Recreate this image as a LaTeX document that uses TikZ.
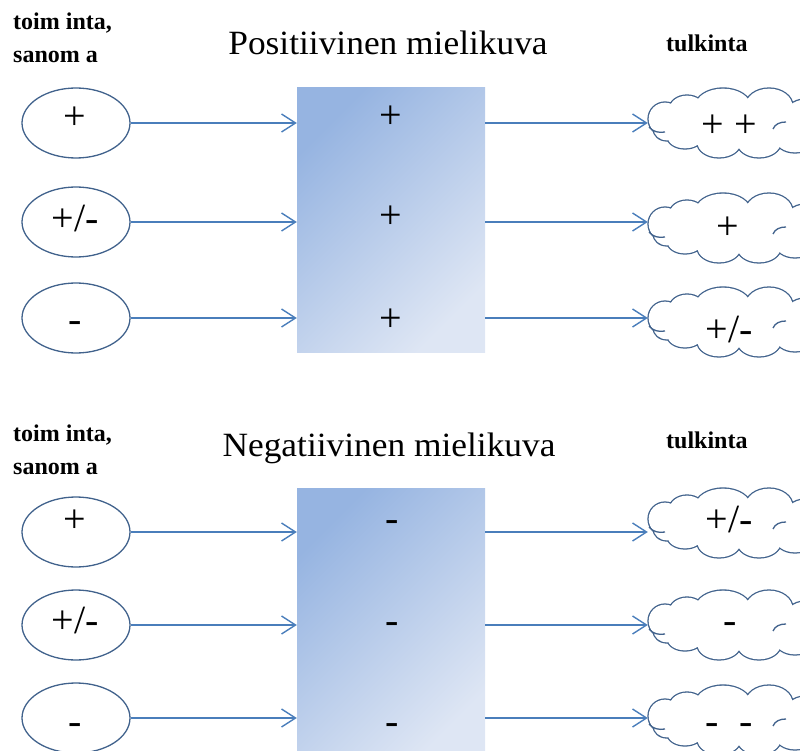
\documentclass[tikz,border=0pt]{standalone}
\usepackage{fontspec}
\setmainfont{Liberation Serif}
\usetikzlibrary{shapes.geometric,arrows.meta}
\definecolor{edge}{RGB}{65,98,140}
\definecolor{link}{RGB}{74,126,187}
\definecolor{shadeA}{RGB}{150,180,225}
\definecolor{shadeB}{RGB}{222,230,244}
% lobes of a cloud outline (local axes, y up); radii grown by \lobegrow
\def\lobegrow{0pt}
\newcommand\lobe[4]{(#1,#2) ellipse[x radius=#3pt+(\lobegrow), y radius=#4pt+(\lobegrow)]}
\newcommand\cloudlobes{%
  \lobe{-72}{4}{17}{17}
  \lobe{-50}{14}{18}{14}
  \lobe{-14}{17}{28}{18}
  \lobe{32}{17}{24}{18}
  \lobe{68}{4}{22}{20}
  \lobe{58}{-16}{20}{14}
  \lobe{22}{-20}{22}{15}
  \lobe{-18}{-20}{22}{15}
  \lobe{-52}{-14}{18}{12}
  \lobe{-70}{-6}{14}{12}
  \lobe{0}{0}{62}{20}}
\begin{document}
\begin{tikzpicture}[x=1pt,y=-1pt,
  oval/.style={draw=edge, line width=1.3pt, ellipse, minimum width=108pt, minimum height=70pt, inner sep=0pt},
  puff/.style={rectangle, minimum width=178pt, minimum height=70pt, inner sep=0pt},
  hook/.style={draw=edge, line width=1.3pt},
  panel/.style={shading=axis, top color=shadeA, bottom color=shadeB, shading angle=45, inner sep=0pt, minimum width=188pt},
  arr/.style={draw=link, line width=1.4pt, -{Straight Barb[length=14pt,width=18pt]}},
  sign/.style={font=\fontsize{40}{48}\selectfont, inner sep=0pt, anchor=base},
  lab/.style={font=\fontsize{24}{30}\selectfont\bfseries, inner sep=0pt, anchor=base west},
  head/.style={font=\fontsize{34}{40}\selectfont, inner sep=0pt, anchor=base}
]
\useasboundingbox (0,0) rectangle (800,751);

% ---------- shapes ----------
\node[lab] (ta1) at (13,30) {toim inta,};
\node[lab] (tb1) at (13,63) {sanom a};
\node[head] (h1) at (388,55) {\scalebox{1.04}[1]{Positiivinen mielikuva}};
\node[lab] (tk1) at (666,52) {tulkinta};

\node[panel, minimum height=264pt] (p1) at (391,220) {};
\node[oval] (e1) at (76,123) {};
\node[oval] (e2) at (76,222) {};
\node[oval] (e3) at (76,318) {};
\node[puff] (c1) at (737,123) {};
\node[puff] (c2) at (737,228) {};
\node[puff] (c3) at (737,322) {};

\node[lab] (ta2) at (13,441) {toim inta,};
\node[lab] (tb2) at (13,474) {sanom a};
\node[head] (h2) at (389,456) {\scalebox{1.04}[1]{Negatiivinen mielikuva}};
\node[lab] (tk2) at (666,448) {tulkinta};

\node[panel, minimum height=272pt] (p2) at (391,624) {};
\node[oval] (e4) at (76,532) {};
\node[oval] (e5) at (76,625) {};
\node[oval] (e6) at (76,718) {};
\node[puff] (c4) at (737,523) {};
\node[puff] (c5) at (737,625) {};
\node[puff] (c6) at (737,720) {};

% cloud outlines: stroked union of lobes plus two inner curls
\foreach \c in {c1,c2,c3,c4,c5,c6}{
  \begin{scope}[shift={(\c.center)}, x=1pt, y=1pt]
    \def\lobegrow{0.65pt}
    \fill[edge] \cloudlobes;
    \def\lobegrow{-0.65pt}
    \fill[white] \cloudlobes;
    \draw[hook] (-88,-4) .. controls (-84,-9) and (-78,-10) .. (-72,-9);
    \draw[hook] (36,-6) .. controls (38,-1) and (43,1) .. (49,1);
  \end{scope}
}

% ---------- connectors ----------
\draw[arr] (e1.east) -- (e1.east -| p1.west);
\draw[arr] (e2.east) -- (e2.east -| p1.west);
\draw[arr] (e3.east) -- (e3.east -| p1.west);
\draw[arr] (e1 -| p1.east) -- (e1 -| c1.west);
\draw[arr] (e2 -| p1.east) -- (e2 -| c2.west);
\draw[arr] (e3 -| p1.east) -- (e3 -| c3.west);

\draw[arr] (e4.east) -- (e4.east -| p2.west);
\draw[arr] (e5.east) -- (e5.east -| p2.west);
\draw[arr] (e6.east) -- (e6.east -| p2.west);
\draw[arr] (e4 -| p2.east) -- (e4 -| c4.west);
\draw[arr] (e5 -| p2.east) -- (e5 -| c5.west);
\draw[arr] (e6 -| p2.east) -- (e6 -| c6.west);

% ---------- signs ----------
\node[sign] (se1) at (75,130) {+};
\node[sign] (se2) at (75,232) {+/-};
\node[sign] (se3) at (75,332) {-};
\node[sign] (sp1) at (391,129) {+};
\node[sign] (sp2) at (391,229) {+};
\node[sign] (sp3) at (391,331) {+};
\node[sign] (sc1) at (729,138) {+ +};
\node[sign] (sc2) at (728,240) {+};
\node[sign] (sc3) at (729,342) {+/-};

\node[sign] (se4) at (75,532) {+};
\node[sign] (se5) at (75,633) {+/-};
\node[sign] (se6) at (75,734) {-};
\node[sign] (sp4) at (392,531) {-};
\node[sign] (sp5) at (392,633) {-};
\node[sign] (sp6) at (392,734) {-};
\node[sign] (sc4) at (729,532) {+/-};
\node[sign] (sc5) at (730,633) {-};
\node[sign] (sc6) at (729,734) {-\hspace{20pt}-};
\end{tikzpicture}
\end{document}
